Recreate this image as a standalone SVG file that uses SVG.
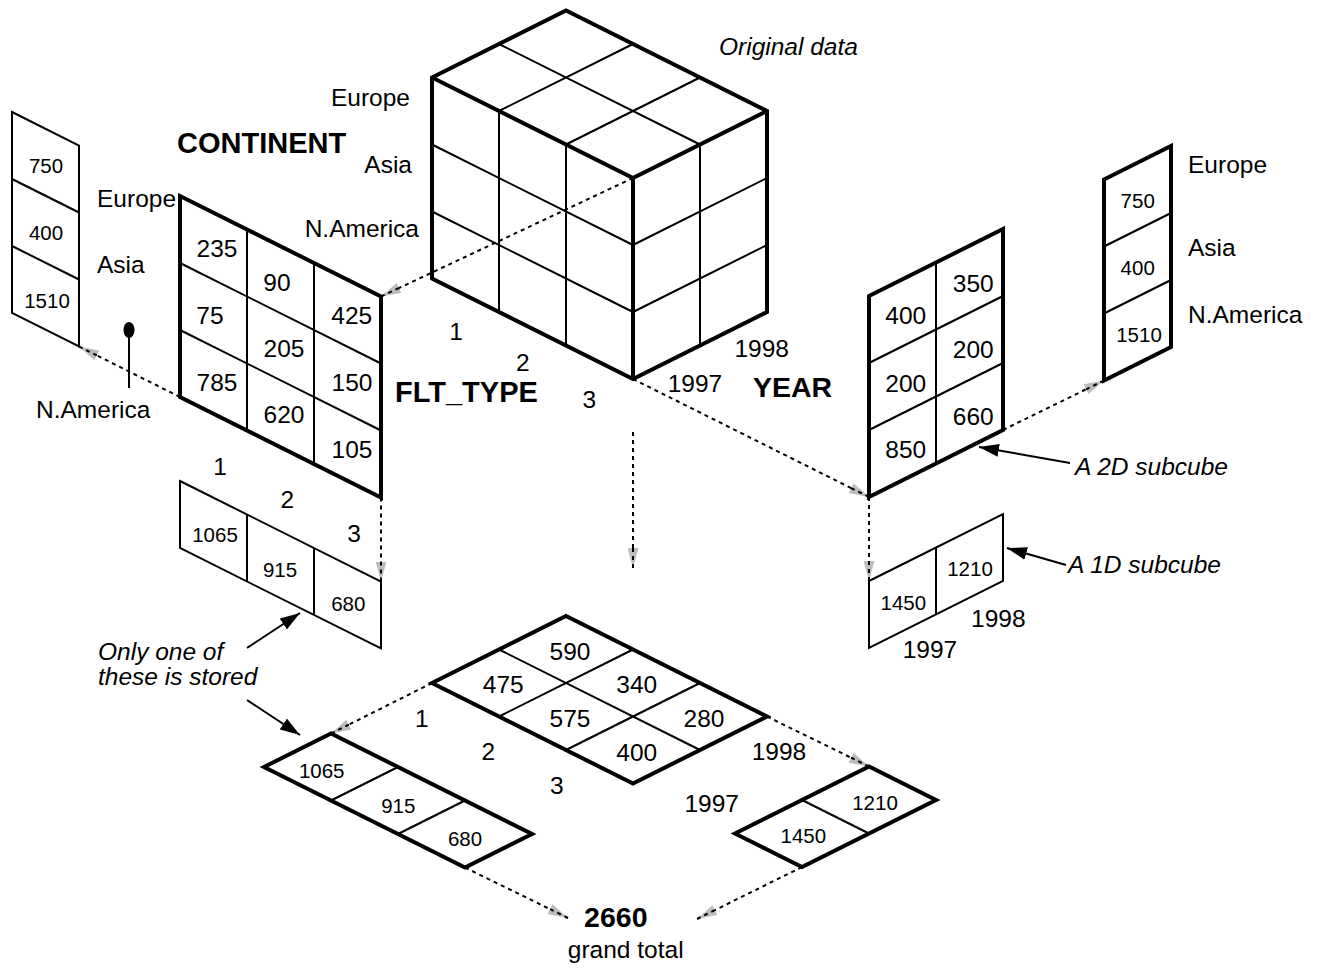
<svg xmlns="http://www.w3.org/2000/svg" width="1322" height="970" viewBox="0 0 1322 970">
<defs>
<marker id="ga" markerUnits="userSpaceOnUse" markerWidth="20" markerHeight="11" viewBox="0 0 20 11" refX="20" refY="5.5" orient="auto">
<path d="M0,0 L20,5.5 L0,11 z" fill="#bdbdbd"/>
<line x1="0" y1="5.5" x2="20" y2="5.5" stroke="#000" stroke-width="2" stroke-dasharray="4 4"/>
</marker>
<marker id="ba" markerUnits="userSpaceOnUse" markerWidth="20" markerHeight="13" viewBox="0 0 20 13" refX="20" refY="6.5" orient="auto">
<path d="M0,0 L20,6.5 L0,13 z" fill="#000"/>
</marker>
</defs>
<style>
.b{fill:none;stroke:#000;stroke-width:4;stroke-linejoin:miter}
.t{fill:none;stroke:#000;stroke-width:2}
.d{fill:none;stroke:#000;stroke-width:2;stroke-dasharray:4 4;marker-end:url(#ga)}
.a{fill:none;stroke:#000;stroke-width:2;marker-end:url(#ba)}
text{font-family:"Liberation Sans",Arial,sans-serif;fill:#000}
.L{font-size:24.5px}
.S{font-size:20.5px}
.c{text-anchor:middle}
.e{text-anchor:end}
.i{font-style:italic}
.B{font-weight:bold;font-size:29px}
</style>
<rect width="1322" height="970" fill="#fff"/>

<g id="cube">
<path class="t" d="M499,44 L700,144.5 M499,111 L633,44 M566,144.5 L700,77.5 M499,111 V312 M566,144.5 V345.5 M432,144.5 L633,245 M432,211.5 L633,312 M700,144.5 V345.5 M633,245 L767,178 M633,312 L767,245"/>
<path class="b" d="M432,77.5 L566,10.5 L767,111 L767,312 L633,379 L432,278.5 Z M432,77.5 L633,178 L767,111 M633,178 V379"/>
<text class="L e" x="410" y="106">Europe</text>
<text class="L e" x="412" y="172.7">Asia</text>
<text class="L e" x="419" y="236.7">N.America</text>
<text class="L i" x="719" y="55">Original data</text>
<text class="L c" x="456" y="340">1</text>
<text class="L c" x="522.7" y="371">2</text>
<text class="L c" x="589.3" y="408.3">3</text>
<text class="B" x="395" y="401.7">FLT_TYPE</text>
<text class="L c" x="695" y="391.7">1997</text>
<text class="L c" x="761.7" y="357.3">1998</text>
<text class="B" x="753" y="396.7" style="font-size:28.5px">YEAR</text>
</g>

<g id="continent-2d">
<path class="t" d="M247,229.5 V430.5 M314,263 V464 M180,263 L381,363.5 M180,330 L381,430.5"/>
<path class="b" d="M180,196 L381,296.5 L381,497.5 L180,397 Z"/>
<text class="B" x="177" y="153">CONTINENT</text>
<text class="L" x="97" y="206.7">Europe</text>
<text class="L" x="97" y="273.3">Asia</text>
<text class="L" x="36" y="418">N.America</text>
<text class="L c" x="217" y="257">235</text>
<text class="L c" x="277" y="290.5">90</text>
<text class="L c" x="210" y="324">75</text>
<text class="L c" x="351.7" y="324">425</text>
<text class="L c" x="284" y="356.7">205</text>
<text class="L c" x="217" y="390.7">785</text>
<text class="L c" x="352" y="390.7">150</text>
<text class="L c" x="284" y="423">620</text>
<text class="L c" x="352" y="458">105</text>
</g>

<g id="continent-1d-left">
<path class="t" d="M12,112 L79,145.5 L79,346.5 L12,313 Z M12,179 L79,212.5 M12,246 L79,279.5"/>
<text class="S c" x="46" y="173.3">750</text>
<text class="S c" x="46" y="240">400</text>
<text class="S c" x="47" y="308">1510</text>
<ellipse cx="129" cy="330" rx="5.5" ry="8" fill="#000"/>
<line class="t" x1="129" y1="336" x2="129" y2="388"/>
</g>

<g id="flttype-1d">
<path class="t" d="M180,481 L381,581.5 L381,648.5 L180,548 Z M247,514.5 V581.5 M314,548 V615"/>
<text class="S c" x="215" y="541.7">1065</text>
<text class="S c" x="280" y="576.7">915</text>
<text class="S c" x="348.3" y="610.7">680</text>
<text class="L c" x="220" y="475">1</text>
<text class="L c" x="287.3" y="508.3">2</text>
<text class="L c" x="354" y="541.7">3</text>
<text class="L i" x="98" y="660">Only one of</text>
<text class="L i" x="98" y="685">these is stored</text>
</g>

<g id="year-2d">
<path class="t" d="M936,262.5 V463.5 M869,363 L1003,296 M869,430 L1003,363"/>
<path class="b" d="M869,296 L1003,229 L1003,430 L869,497 Z"/>
<text class="L c" x="905.7" y="324.3">400</text>
<text class="L c" x="973.3" y="291.7">350</text>
<text class="L c" x="905.7" y="391.7">200</text>
<text class="L c" x="973.3" y="358.3">200</text>
<text class="L c" x="905.7" y="458.3">850</text>
<text class="L c" x="973.3" y="425">660</text>
<text class="L i" x="1075" y="475">A 2D subcube</text>
</g>

<g id="continent-1d-right">
<path class="t" d="M1104,246.5 L1171,213 M1104,313.5 L1171,280"/>
<path class="b" d="M1104,179.5 L1171,146 L1171,347 L1104,380.5 Z"/>
<text class="S c" x="1137.7" y="208.3">750</text>
<text class="S c" x="1137.7" y="275">400</text>
<text class="S c" x="1139" y="341.7">1510</text>
<text class="L" x="1188" y="172.7">Europe</text>
<text class="L" x="1188" y="256">Asia</text>
<text class="L" x="1188" y="323.3">N.America</text>
</g>

<g id="year-1d">
<path class="t" d="M869,581 L1003,514 L1003,581 L869,648 Z M936,547.5 V614.5"/>
<text class="S c" x="903.3" y="610">1450</text>
<text class="S c" x="970" y="576">1210</text>
<text class="L c" x="998.3" y="626.7">1998</text>
<text class="L c" x="930" y="658.3">1997</text>
<text class="L i" x="1068" y="573">A 1D subcube</text>
</g>

<g id="top-view-2d">
<path class="t" d="M499,649.5 L700,750 M499,716.5 L633,649.5 M566,750 L700,683"/>
<path class="b" d="M432,683 L566,616 L767,716.5 L633,783.5 Z"/>
<text class="L c" x="570" y="660">590</text>
<text class="L c" x="503.3" y="693.3">475</text>
<text class="L c" x="570" y="727.3">575</text>
<text class="L c" x="636.7" y="693.3">340</text>
<text class="L c" x="704" y="727.3">280</text>
<text class="L c" x="636.7" y="760.7">400</text>
<text class="L c" x="421.7" y="727.3">1</text>
<text class="L c" x="488.3" y="760">2</text>
<text class="L c" x="556.7" y="794">3</text>
<text class="L c" x="779" y="760">1998</text>
<text class="L c" x="711.7" y="811.7">1997</text>
</g>

<g id="top-view-flttype">
<path class="t" d="M398,767 L331,800.5 M465,800.5 L398,834"/>
<path class="b" d="M264,767 L331,733.5 L532,834 L465,867.5 Z"/>
<text class="S c" x="321.7" y="778.3">1065</text>
<text class="S c" x="398.3" y="812.7">915</text>
<text class="S c" x="465" y="846">680</text>
</g>

<g id="top-view-year">
<path class="t" d="M802,800 L869,833.5"/>
<path class="b" d="M735,833.5 L869,766.5 L936,800 L802,867 Z"/>
<text class="S c" x="875" y="810">1210</text>
<text class="S c" x="803.3" y="843.3">1450</text>
</g>

<g id="grand-total">
<text class="c" x="615.8" y="927.3" style="font-size:28.5px;font-weight:bold">2660</text>
<text class="L c" x="625.7" y="958">grand total</text>
</g>

<g id="connectors">
<line class="d" x1="633" y1="178" x2="381" y2="296.5"/>
<line class="d" x1="180" y1="397" x2="79" y2="346.5"/>
<line class="d" x1="381" y1="497.5" x2="381" y2="581.5"/>
<line class="d" x1="633" y1="379" x2="869" y2="497"/>
<line class="d" x1="1003" y1="430" x2="1104" y2="380.5"/>
<line class="d" x1="869" y1="497" x2="869" y2="581"/>
<line class="d" x1="633" y1="432" x2="633" y2="568"/>
<line class="d" x1="432" y1="683" x2="331" y2="733.5"/>
<line class="d" x1="767" y1="716.5" x2="869" y2="766.5"/>
<line class="d" x1="465" y1="867.5" x2="568" y2="918"/>
<line class="d" x1="802" y1="867" x2="697" y2="919"/>
<line class="a" x1="1070" y1="463" x2="979" y2="447"/>
<line class="a" x1="1066" y1="565" x2="1007" y2="548"/>
<line class="a" x1="247" y1="648" x2="300" y2="613"/>
<line class="a" x1="247" y1="700" x2="300" y2="735"/>
</g>
</svg>
